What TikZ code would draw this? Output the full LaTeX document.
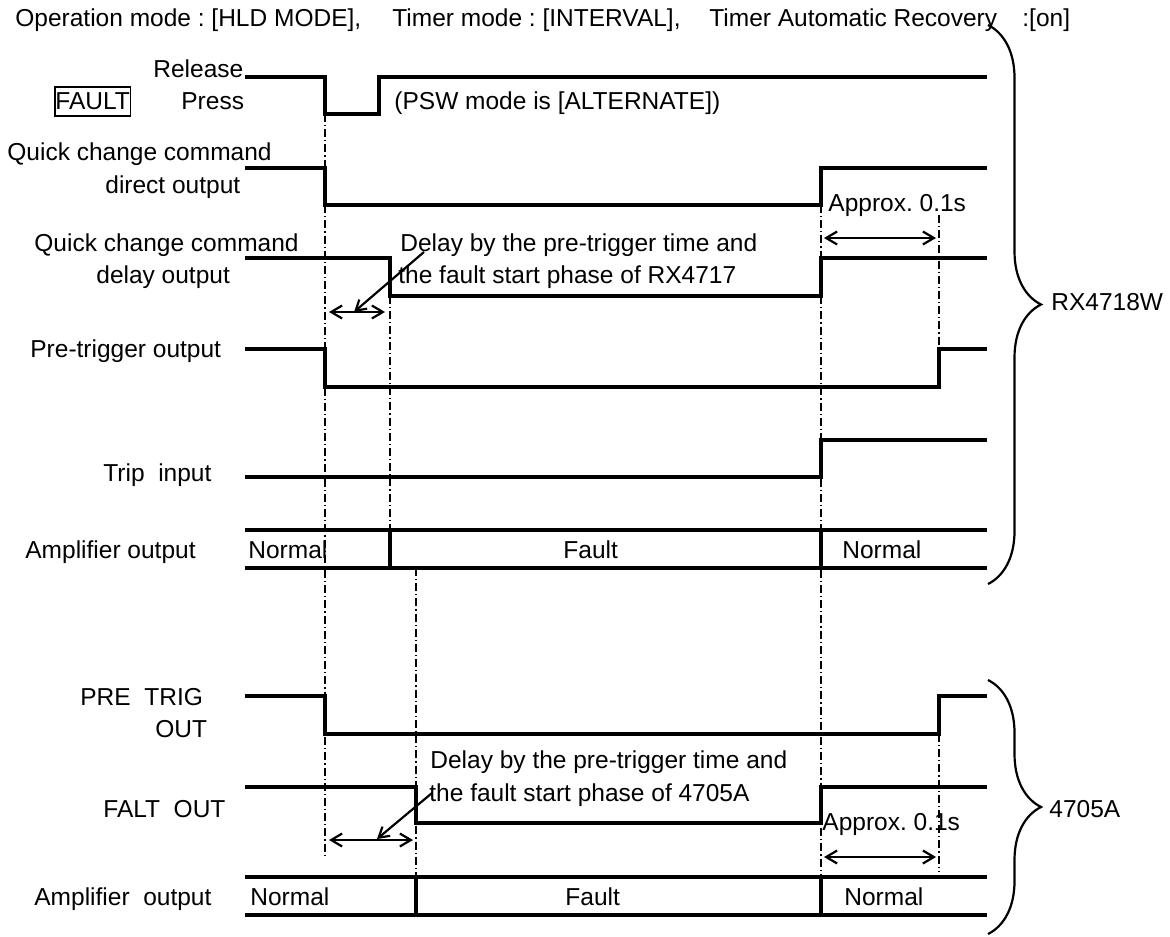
\documentclass[tikz,border=0pt]{standalone}
\usepackage{fontspec}
\setmainfont{Liberation Sans}
\usetikzlibrary{arrows.meta,decorations.pathreplacing}
\begin{document}
\frenchspacing
\begin{tikzpicture}[x=0.5pt,y=-0.5pt,
  lbl/.style={font=\fontsize{12.25}{14}\selectfont, inner sep=0pt, anchor=base west},
  sig/.style={line width=1.6pt},
  guide/.style={line width=0.6pt, dash pattern=on 4pt off 1.5pt on 0.6pt off 1.5pt},
  dimarrow/.style={line width=1.1pt, {Straight Barb[length=5.5pt,width=6.5pt]}-{Straight Barb[length=5.5pt,width=6.5pt]}},
  pointer/.style={line width=1.1pt, -{Straight Barb[length=5pt,width=6pt]}},
  bracestyle/.style={line width=1.1pt, decorate, decoration={brace, amplitude=26.5pt}}]
\useasboundingbox (0,0) rectangle (1170,936);

% ---------- title ----------
\node[lbl] (t1) at (15,27) {Operation mode : [HLD MODE],};
\node[lbl] (t2) at (392,27) {Timer mode : [INTERVAL],};
\node[lbl] (t3) at (709,27) {Timer Automatic Recovery};
\node[lbl] (t4) at (1022,27) {:[on]};

% ---------- labels ----------
\node[lbl] (lrel) at (153,78) {Release};
\node[lbl, draw, line width=0.8pt, inner xsep=0.3pt, inner ysep=0pt, text height=11.5pt, text depth=3pt] (lfault) at (54,110) {FAULT};
\node[lbl] (lpress) at (181,110) {Press};
\node[lbl] (psw) at (394,110) {(PSW mode is [ALTERNATE])};
\node[lbl] (lq1a) at (7,161) {Quick change command};
\node[lbl] (lq1b) at (105,193) {direct output};
\node[lbl] (lq2a) at (34,251) {Quick change command};
\node[lbl] (lq2b) at (96,283) {delay output};
\node[lbl] (d1a) at (400,251) {Delay by the pre-trigger time and};
\node[lbl] (d1b) at (398,283) {the fault start phase of RX4717};
\node[lbl] (lpre) at (30,357) {Pre-trigger output};
\node[lbl] (ltrip) at (103,481) {Trip\ \ input};
\node[lbl] (lamp1) at (25,558) {Amplifier output};
\node[lbl] (n1a) at (248,558) {Normal};
\node[lbl] (f1) at (563,558) {Fault};
\node[lbl] (n1b) at (842,558) {Normal};
\node[lbl] (ap1) at (828,212) {Approx. 0.1s};
\node[lbl] (rx) at (1051,310) {RX4718W};

\node[lbl] (lpt1) at (80,705) {PRE\ \ TRIG};
\node[lbl] (lpt2) at (155,737) {OUT};
\node[lbl] (lfo) at (103,817) {FALT\ \ OUT};
\node[lbl] (d2a) at (430,768) {Delay by the pre-trigger time and};
\node[lbl] (d2b) at (429,801) {the fault start phase of 4705A};
\node[lbl] (lamp2) at (34,905) {Amplifier\ \ output};
\node[lbl] (n2a) at (250,905) {Normal};
\node[lbl] (f2) at (565,905) {Fault};
\node[lbl] (n2b) at (844,905) {Normal};
\node[lbl] (ap2) at (822,830) {Approx. 0.1s};
\node[lbl] (ax) at (1049,817) {4705A};

% ---------- guide lines ----------
\draw[guide] (325,114) -- (325,855);
\draw[guide] (390,296) -- (390,530);
\draw[guide] (416,568) -- (416,877);
\draw[guide] (821,205) -- (821,877);
\draw[guide] (939,215) -- (939,349);
\draw[guide] (939,734) -- (939,871);

% ---------- signals ----------
\draw[sig] (245,77) -| (325,114) -| (379,77) -- (987,77);
\draw[sig] (245,168) -| (325,205) -| (821,168) -- (987,168);
\draw[sig] (245,258) -| (390,296) -| (821,258) -- (987,258);
\draw[sig] (245,349) -| (325,387) -| (939,349) -- (987,349);
\draw[sig] (245,477) -| (821,440) -- (987,440);
\draw[sig] (245,530) -- (987,530) (245,568) -- (987,568)
           (390,530) -- (390,568) (821,530) -- (821,568);

\draw[sig] (245,696) -| (325,734) -| (939,696) -- (987,696);
\draw[sig] (245,787) -| (416,823) -| (821,787) -- (987,787);
\draw[sig] (245,877) -- (987,877) (245,915) -- (987,915)
           (416,877) -- (416,915) (821,877) -- (821,915);

% ---------- dimension arrows ----------
\coordinate (a1l) at (329,312); \coordinate (a1r) at (385,312);
\draw[dimarrow] (a1l) -- (a1r);
\coordinate (p1s) at (424,252); \coordinate (p1e) at (354,312);
\draw[pointer] (p1s) -- (p1e);

\coordinate (a2l) at (824,238); \coordinate (a2r) at (936,238);
\draw[dimarrow] (a2l) -- (a2r);

\coordinate (a3l) at (329,840); \coordinate (a3r) at (413,840);
\draw[dimarrow] (a3l) -- (a3r);
\coordinate (p2s) at (432,793); \coordinate (p2e) at (377,839);
\draw[pointer] (p2s) -- (p2e);

\coordinate (a4l) at (824,857); \coordinate (a4r) at (936,857);
\draw[dimarrow] (a4l) -- (a4r);

% ---------- braces ----------
\coordinate (b1t) at (988,25); \coordinate (b1b) at (988,584);
\draw[bracestyle] (b1t) -- (b1b);
\coordinate (b2t) at (988,680); \coordinate (b2b) at (988,934);
\draw[bracestyle] (b2t) -- (b2b);
\end{tikzpicture}
\end{document}
